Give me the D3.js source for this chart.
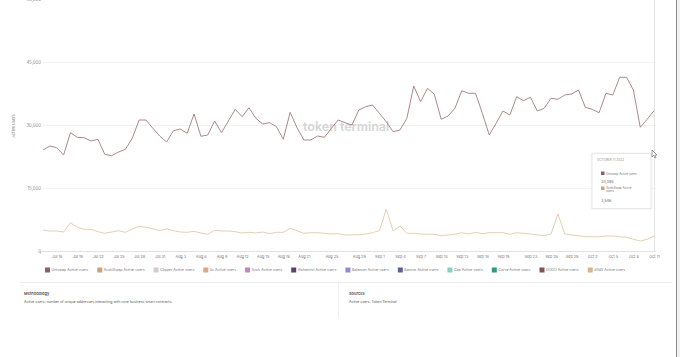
<!DOCTYPE html>
<html><head><meta charset="utf-8">
<script src="https://cdn.jsdelivr.net/npm/d3@7"></script>
<style>html,body{margin:0;padding:0;background:#fff;overflow:hidden}svg{display:block;font-family:Inter,"Open Sans",sans-serif}</style>
</head><body><svg id="c" width="680" height="357"></svg>
<script>
// ---- data ----
const startDate = "2022-07-14";
const endDate = "2022-10-11";
const uniswap = [24050,25000,24600,22860,28170,27070,26980,26190,26600,23020,
  22690,23570,24210,26830,31190,31190,29210,27380,25950,28640,
  29050,28020,32620,27310,27620,30950,28170,30950,33740,31980,
  34120,31600,30240,30550,29600,26600,33020,29360,26430,26430,
  27380,27070,29210,31190,30550,30000,33570,34360,34760,32790,
  30790,28400,28810,31600,39290,35550,38740,37310,31360,32140,
  33980,38170,37550,37550,32790,27620,30400,33330,32380,36740,
  35790,36600,33330,33980,36360,36120,37140,37380,38330,34210,
  33740,32930,37550,37140,41360,41360,38330,29450,31360,33395];
const sushiswap = [5000,4760,4760,4520,6740,5640,5170,5170,4600,4210,
  4520,4830,4450,5240,5880,5640,5310,4830,5240,4830,
  4520,4450,4690,4290,3980,4930,4760,4760,4600,4290,
  4450,4290,4520,4120,4450,4450,5400,4830,4210,4360,
  4360,4210,4050,4120,3810,3810,3900,4050,4360,4830,
  9930,4760,5950,4210,4210,4050,3980,3980,3640,3810,
  3980,4360,4050,4450,4120,4360,4360,4360,3980,4360,
  4210,4050,3810,3640,4050,8810,4050,3810,3640,3400,
  3400,3400,3570,3570,3400,3260,2790,2380,2790,3546];
const xTickDates = ["2022-07-16","2022-07-19","2022-07-22","2022-07-25","2022-07-28","2022-07-31",
  "2022-08-03","2022-08-06","2022-08-09","2022-08-12","2022-08-15","2022-08-18","2022-08-21",
  "2022-08-25","2022-08-29","2022-09-01","2022-09-04","2022-09-07","2022-09-10","2022-09-13",
  "2022-09-16","2022-09-19","2022-09-23","2022-09-26","2022-09-29","2022-10-02","2022-10-05",
  "2022-10-08","2022-10-11"];
const yTicks = [0,15000,30000,45000,60000];
const legendNames = ["Uniswap Active users","SushiSwap Active users","Clipper Active users","0x Active users",
  "1inch Active users","Alchemist Active users","Balancer Active users","Bancor Active users",
  "Cap Active users","Curve Active users","DODO Active users","dYdX Active users"];
const legendColors = ["#8e5f5c","#c9a37e","#cfcfcf","#e2a586","#c583c4","#5b3f6b",
  "#8d8ed6","#5e6098","#86d3c3","#2f9a7c","#7c5452","#d8b392"];
const tooltipDate = "OCTOBER 11 2022";
const methodologyText = "Active users: number of unique addresses interacting with core business smart contracts.";
const sourcesText = "Active users: Token Terminal";

// ---- chart ----
const parse = d3.timeParse("%Y-%m-%d");
const dates = d3.timeDay.range(parse(startDate), d3.timeDay.offset(parse(endDate), 1));
const svg = d3.select("#c");
const x = d3.scaleTime().domain([parse(startDate), parse(endDate)]).range([43, 654]);
const y = d3.scaleLinear().domain([0, 60000]).range([251, -1]);

// gridlines
svg.append("g").selectAll("line").data(yTicks.filter(d => d > 0)).join("line")
  .attr("x1", 43).attr("x2", 656).attr("y1", d => Math.round(y(d)) + 0.5).attr("y2", d => Math.round(y(d)) + 0.5)
  .attr("stroke", "#f2f2f2").attr("stroke-width", 1);

// y axis
const yAxis = svg.append("g").attr("transform", "translate(41,0)")
  .call(d3.axisLeft(y).tickValues(yTicks).tickSize(0).tickPadding(0).tickFormat(d3.format(",")));
yAxis.select(".domain").remove();
yAxis.selectAll("text").attr("font-size", 4.3).attr("fill", "#888").attr("font-family", "Inter, sans-serif");

svg.append("text").attr("transform", "translate(15,126) rotate(-90)").attr("text-anchor", "middle")
  .attr("font-size", 4).attr("fill", "#888").text("Active users");

// x axis
const xAxis = svg.append("g").attr("transform", "translate(0,251.5)")
  .call(d3.axisBottom(x).tickValues(xTickDates.map(parse)).tickSize(0).tickPadding(4).tickFormat(d3.timeFormat("%b %-d")));
xAxis.select(".domain").attr("stroke", "#e2e2e2").attr("d", "M40,0H656");
xAxis.selectAll("text").attr("font-size", 3.8).attr("fill", "#777").attr("font-family", "Inter, sans-serif");
svg.append("line").attr("x1", 40.5).attr("x2", 40.5).attr("y1", 251).attr("y2", 254).attr("stroke", "#bbb").attr("stroke-width", 0.6);

// watermark
svg.append("text").attr("x", 303).attr("y", 131).attr("font-size", 12.5).attr("font-weight", 600)
  .attr("fill", "#d6d6d6").attr("font-family", "Inter, sans-serif").text("token terminal");

// crosshair
svg.append("line").attr("x1", 654.5).attr("x2", 654.5).attr("y1", 0).attr("y2", 251).attr("stroke", "#e6e6e6").attr("stroke-width", 1);

// lines
const line = d3.line().x((d, i) => x(dates[i])).y(d => y(d));
svg.append("path").datum(sushiswap).attr("d", line).attr("fill", "none").attr("stroke", "#e6cfb2").attr("stroke-width", 1);
svg.append("path").datum(uniswap).attr("d", line).attr("fill", "none").attr("stroke", "#a8837f").attr("stroke-width", 0.95);

// legend
const lg = svg.append("g");
let lx = 45;
legendNames.forEach((name, i) => {
  lg.append("rect").attr("x", lx).attr("y", 267.5).attr("width", 5).attr("height", 5).attr("fill", legendColors[i]);
  const t = lg.append("text").attr("x", lx + 6.5).attr("y", 271.4).attr("font-size", 3.6).attr("fill", "#777").text(name);
  lx += 6.5 + t.node().getComputedTextLength() + 9;
});

// footer
svg.append("line").attr("x1", 20).attr("x2", 672).attr("y1", 282.5).attr("y2", 282.5).attr("stroke", "#eeeeee");
svg.append("line").attr("x1", 338.5).attr("x2", 338.5).attr("y1", 283).attr("y2", 318).attr("stroke", "#f0f0f0");
svg.append("text").attr("x", 24).attr("y", 295).attr("font-size", 4).attr("font-weight", 500).attr("fill", "#333").text("Methodology");
svg.append("text").attr("x", 24).attr("y", 303).attr("font-size", 3.5).attr("fill", "#555").text(methodologyText);
svg.append("text").attr("x", 349).attr("y", 295).attr("font-size", 4).attr("font-weight", 500).attr("fill", "#333").text("Sources");
svg.append("text").attr("x", 349).attr("y", 303).attr("font-size", 3.5).attr("fill", "#555").text(sourcesText);

// right edge bar
svg.append("rect").attr("x", 676).attr("y", 0).attr("width", 4).attr("height", 357).attr("fill", "#f2f2f2");
svg.append("line").attr("x1", 676.5).attr("x2", 676.5).attr("y1", 0).attr("y2", 357).attr("stroke", "#8a8a8a");

// tooltip
const last = uniswap.length - 1;
const tt = svg.append("g");
tt.append("rect").attr("x", 592).attr("y", 153.5).attr("width", 59).attr("height", 55)
  .attr("fill", "#fff").attr("stroke", "#e3e3e3").attr("stroke-width", 0.8)
  .style("filter", "drop-shadow(0 0.5px 1px rgba(0,0,0,0.08))");
tt.append("text").attr("x", 597).attr("y", 161).attr("font-size", 2.9).attr("fill", "#888").attr("letter-spacing", 0.15).text(tooltipDate);
tt.append("rect").attr("x", 601).attr("y", 171.5).attr("width", 3.5).attr("height", 3.5).attr("fill", legendColors[0]);
tt.append("text").attr("x", 606).attr("y", 174.5).attr("font-size", 3).attr("fill", "#777").text(legendNames[0]);
tt.append("text").attr("x", 601).attr("y", 183).attr("font-size", 3.8).attr("fill", "#666").text(d3.format(",")(uniswap[last]));
tt.append("rect").attr("x", 601).attr("y", 186.5).attr("width", 3.5).attr("height", 3.5).attr("fill", legendColors[1]);
tt.append("text").attr("x", 606).attr("y", 188.5).attr("font-size", 3).attr("fill", "#777").text("SushiSwap Active");
tt.append("text").attr("x", 606).attr("y", 192).attr("font-size", 3).attr("fill", "#777").text("users");
tt.append("text").attr("x", 601).attr("y", 202).attr("font-size", 3.8).attr("fill", "#666").text(d3.format(",")(sushiswap[last]));

// mouse cursor
svg.append("path").attr("transform", "translate(652,150)")
  .attr("d", "M0,0L0,7L1.7,5.4L2.9,8L4,7.5L2.9,5L5,5Z")
  .attr("fill", "#fff").attr("stroke", "#444").attr("stroke-width", 0.5);
</script></body></html>
